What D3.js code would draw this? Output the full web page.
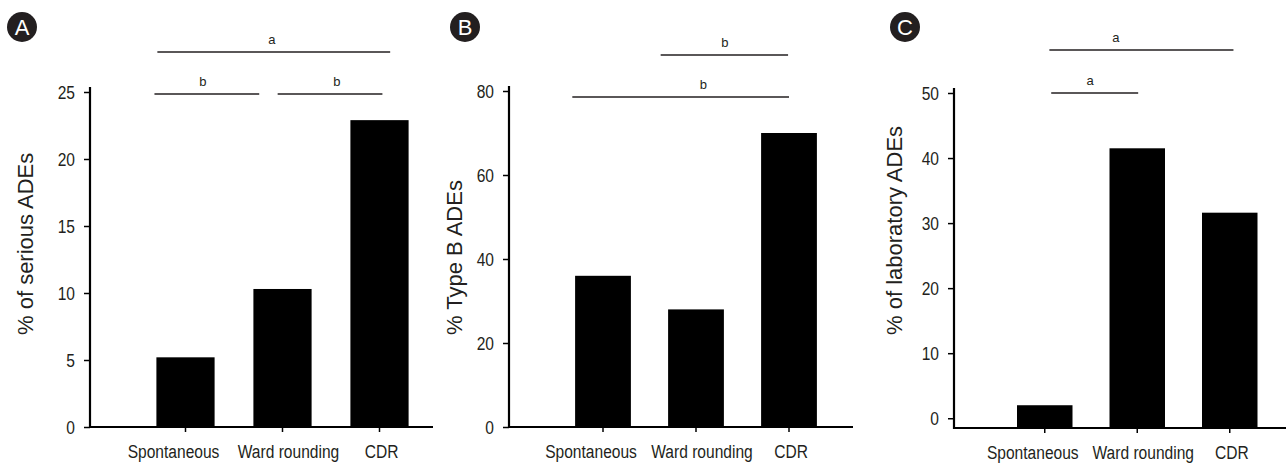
<!DOCTYPE html>
<html>
<head>
<meta charset="utf-8">
<script src="https://cdn.jsdelivr.net/npm/d3@7"></script>
<style>
  body { margin: 0; background: #fff; }
  svg { display: block; }
  .tick text { font-family: "Liberation Sans", Arial, sans-serif; font-size: 19px; fill: #231f20; }
  .title { font-family: "Liberation Sans", Arial, sans-serif; font-size: 22px; fill: #231f20; }
  .sig { font-family: "Liberation Sans", Arial, sans-serif; font-size: 13px; fill: #231f20; }
  .badge { font-family: "Liberation Sans", Arial, sans-serif; font-size: 22px; fill: #fff; }
</style>
</head>
<body>
<div id="container"></div>
<script>
const categories = ['Spontaneous', 'Ward rounding', 'CDR'];

const seriousValues = [5.2, 10.3, 22.9];
const typeBValues = [36, 28, 70];
const laboratoryValues = [2.0, 41.5, 31.6];

const seriousTicks = [0, 5, 10, 15, 20, 25];
const typeBTicks = [0, 20, 40, 60, 80];
const laboratoryTicks = [0, 10, 20, 30, 40, 50];

// significance bars, positions in category units (0 = first bar centre)
const seriousSig = [
  { label: 'a', from: -0.29, to: 2.11, at: 0.89, level: 0 },
  { label: 'b', from: -0.32, to: 0.76, at: 0.18, level: 1 },
  { label: 'b', from: 0.95, to: 2.03, at: 1.56, level: 1 }
];
const typeBSig = [
  { label: 'b', from: 0.62, to: 1.99, at: 1.31, level: 0 },
  { label: 'b', from: -0.33, to: 2.0, at: 1.08, level: 1 }
];
const laboratorySig = [
  { label: 'a', from: 0.05, to: 2.04, at: 0.77, level: 0 },
  { label: 'a', from: 0.07, to: 1.01, at: 0.49, level: 1 }
];

const labelShift = [-12, 6, 2];
const narrow = 0.82; // condensed look of the tick font

const panels = [
  { badge: 'A', badgeX: 22, axisX: 90, xEnd: 433, band: [137, 428], yMin: 0, yMax: 25, yTop: 92, xAxisY: 427,
    values: seriousValues, ticks: seriousTicks, sig: seriousSig, levels: [52, 94],
    title: '% of serious ADEs', titleX: 33 },
  { badge: 'B', badgeX: 465, axisX: 509, xEnd: 853, band: [556.5, 835.5], yMin: 0, yMax: 80, yTop: 91, xAxisY: 427,
    values: typeBValues, ticks: typeBTicks, sig: typeBSig, levels: [55, 97],
    title: '% Type B ADEs', titleX: 462 },
  { badge: 'C', badgeX: 905, axisX: 954, xEnd: 1286, band: [998.5, 1276], yMin: -1.5, yMax: 50, yTop: 93, xAxisY: 428,
    values: laboratoryValues, ticks: laboratoryTicks, sig: laboratorySig, levels: [50, 93],
    title: '% of laboratory ADEs', titleX: 902 }
];

const width = 1286, height = 464;
const svg = d3.select('#container').append('svg')
  .attr('width', width)
  .attr('height', height);

panels.forEach(drawPanel);

function drawPanel(p) {
  const g = svg.append('g');

  const x = d3.scaleBand()
    .domain(categories)
    .range(p.band)
    .paddingInner(0.4)
    .paddingOuter(0.2);

  const y = d3.scaleLinear()
    .domain([p.yMin, p.yMax])
    .range([p.xAxisY, p.yTop]);

  // category units -> pixels
  const c0 = x(categories[0]) + x.bandwidth() / 2;
  const cat = d3.scaleLinear().domain([0, 1]).range([c0, c0 + x.step()]);

  g.selectAll('rect.bar')
    .data(p.values)
    .enter()
    .append('rect')
    .attr('class', 'bar')
    .attr('x', (d, i) => x(categories[i]))
    .attr('y', (d) => y(d))
    .attr('width', x.bandwidth())
    .attr('height', (d) => p.xAxisY - y(d))
    .attr('fill', '#000');

  // y axis
  const yAxis = g.append('g')
    .attr('transform', `translate(${p.axisX},0)`)
    .call(d3.axisLeft(y).tickValues(p.ticks).tickSize(6).tickPadding(9));
  yAxis.select('.domain').remove();
  yAxis.selectAll('.tick line').attr('stroke', '#000').attr('stroke-width', 1.5);
  yAxis.selectAll('.tick text')
    .attr('transform', `scale(${narrow},1)`)
    .attr('x', -15 / narrow);

  g.append('line')
    .attr('x1', p.axisX).attr('x2', p.axisX)
    .attr('y1', y(p.yMax) - 5).attr('y2', p.xAxisY + 1)
    .attr('stroke', '#000').attr('stroke-width', 2.2);

  // x axis
  const xAxis = g.append('g')
    .attr('transform', `translate(0,${p.xAxisY})`)
    .call(d3.axisBottom(x).tickSize(5).tickPadding(13));
  xAxis.select('.domain').remove();
  xAxis.selectAll('.tick line').attr('stroke', '#000').attr('stroke-width', 1.5);
  xAxis.selectAll('.tick text')
    .attr('transform', `scale(${narrow},1)`)
    .attr('dx', (d, i) => labelShift[i] / narrow);

  g.append('line')
    .attr('x1', p.axisX - 1).attr('x2', p.xEnd)
    .attr('y1', p.xAxisY).attr('y2', p.xAxisY)
    .attr('stroke', '#000').attr('stroke-width', 2.2);

  // axis title
  g.append('text')
    .attr('class', 'title')
    .attr('transform', `translate(${p.titleX},335) rotate(-90)`)
    .attr('text-anchor', 'start')
    .text(p.title);

  // significance bars
  g.selectAll('line.sig')
    .data(p.sig)
    .enter()
    .append('line')
    .attr('class', 'sig')
    .attr('x1', (d) => cat(d.from))
    .attr('x2', (d) => cat(d.to))
    .attr('y1', (d) => p.levels[d.level])
    .attr('y2', (d) => p.levels[d.level])
    .attr('stroke', '#231f20')
    .attr('stroke-width', 1.3);

  g.selectAll('text.sig')
    .data(p.sig)
    .enter()
    .append('text')
    .attr('class', 'sig')
    .attr('x', (d) => cat(d.at))
    .attr('y', (d) => p.levels[d.level] - 8)
    .attr('text-anchor', 'middle')
    .text((d) => d.label);

  // panel badge
  g.append('circle')
    .attr('cx', p.badgeX).attr('cy', 27).attr('r', 15)
    .attr('fill', '#231f20');
  g.append('text')
    .attr('class', 'badge')
    .attr('x', p.badgeX).attr('y', 27)
    .attr('dy', '0.36em')
    .attr('text-anchor', 'middle')
    .text(p.badge);
}
</script>
</body>
</html>
